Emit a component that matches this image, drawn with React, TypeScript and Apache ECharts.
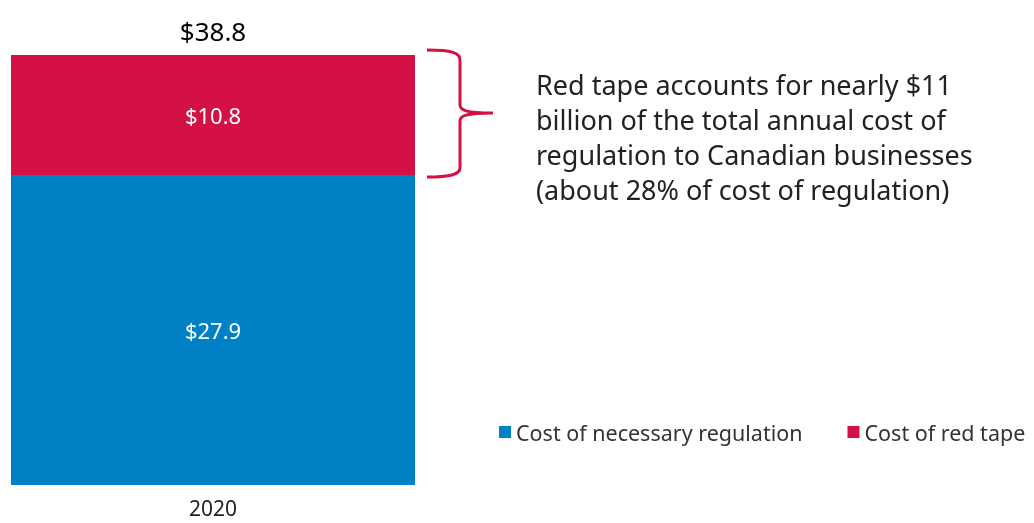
import React, { useEffect, useRef } from "react";
import * as echarts from "echarts";

const categories = ["2020"];
const necessary = [27.9];
const redTape = [10.8];
const totals = [38.8];
const seriesNames = ["Cost of necessary regulation", "Cost of red tape"];
const annotation = [
  "Red tape accounts for nearly $11",
  "billion of the total annual cost of",
  "regulation to Canadian businesses",
  "(about 28% of cost of regulation)",
];

const BRACE =
  "M0,0 C25,0 33,3 33,10 L33,55 C33,60 38,63 66,63 M66,63 C38,63 33,66 33,71 L33,118 C33,124 25,127 0,127";
echarts.graphic.registerShape("brace", (echarts.graphic as any).extendPath(BRACE, {}));

const FONT = "'Noto Sans', sans-serif";

export default function App() {
  const ref = useRef<HTMLDivElement>(null);
  useEffect(() => {
    if (!ref.current) return;
    const chart = echarts.init(ref.current, null, { renderer: "svg" });
    const max = necessary[0] + redTape[0];
    chart.setOption({
      animation: false,
      textStyle: { fontFamily: FONT },
      grid: { left: 11, top: 55, width: 404, height: 430 },
      legend: {
        left: 494,
        top: 416,
        icon: "rect",
        itemWidth: 12,
        itemHeight: 12,
        itemGap: 45,
        textStyle: { fontSize: 21.5, color: "#333", fontFamily: FONT },
        data: seriesNames,
      },
      xAxis: {
        type: "category",
        data: categories,
        axisLine: { show: false },
        axisTick: { show: false },
        axisLabel: { fontSize: 21, color: "#222", margin: 12, lineHeight: 21, fontFamily: FONT },
      },
      yAxis: { type: "value", min: 0, max: max, show: false },
      series: [
        {
          name: seriesNames[0],
          type: "bar",
          stack: "a",
          data: necessary,
          barWidth: "100%",
          itemStyle: { color: "#0081C6" },
          label: { show: true, position: "inside", color: "#fff", fontSize: 22, formatter: (p: any) => "$" + p.value.toFixed(1) },
        },
        {
          name: seriesNames[1],
          type: "bar",
          stack: "a",
          data: redTape,
          barWidth: "100%",
          itemStyle: { color: "#D31145" },
          label: { show: true, position: "inside", color: "#fff", fontSize: 22, formatter: (p: any) => "$" + p.value.toFixed(1) },
        },
        {
          name: "total",
          type: "bar",
          stack: "a",
          data: totals.map(() => 0),
          barWidth: "100%",
          legendHoverLink: false,
          label: {
            show: true,
            position: "top",
            distance: 11,
            color: "#000",
            fontSize: 26,
            formatter: (p: any) => "$" + totals[p.dataIndex].toFixed(1),
          },
        },
      ],
      graphic: [
        {
          type: "brace",
          x: 427,
          y: 50,
          style: { stroke: "#D31145", fill: "none", lineWidth: 3 },
        },
        {
          type: "text",
          left: 536,
          top: 67,
          style: {
            text: annotation.join("\n"),
            fontSize: 27,
            lineHeight: 35,
            fill: "#222",
            fontFamily: FONT,
          },
        },
      ],
    });
    return () => chart.dispose();
  }, []);
  return <div ref={ref} style={{ position: "fixed", left: 0, top: 0, width: 1034, height: 523 }} />;
}
